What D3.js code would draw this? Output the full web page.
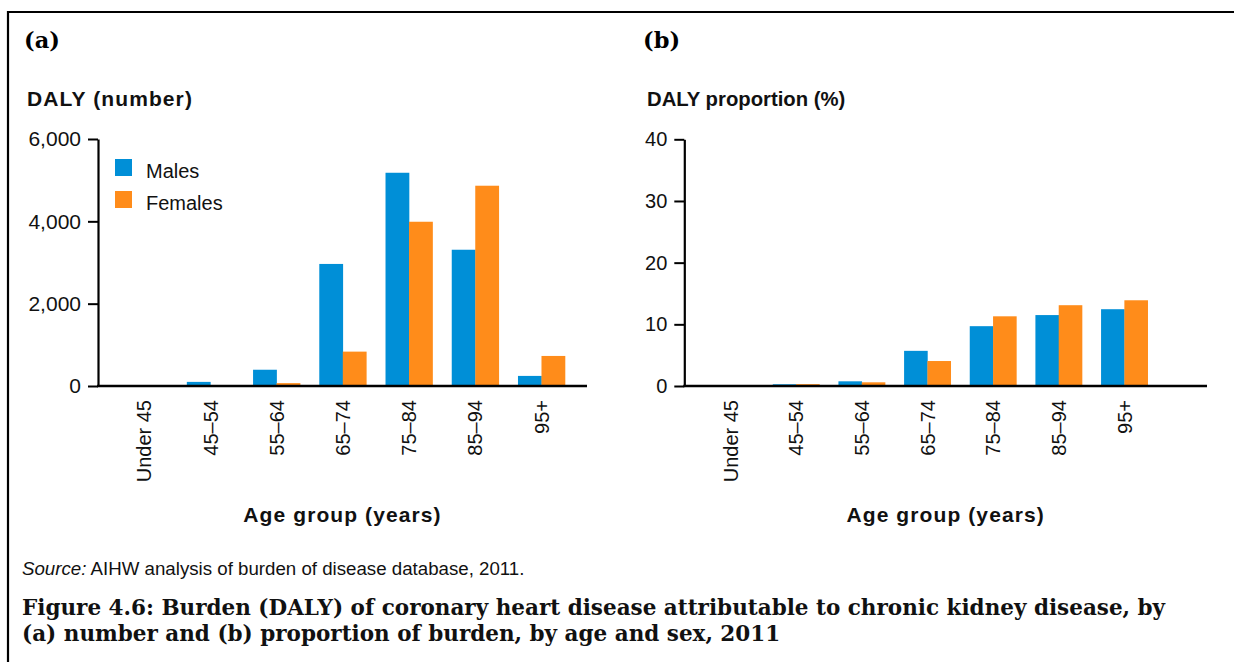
<!DOCTYPE html>
<html><head><meta charset="utf-8">
<script src="https://cdn.jsdelivr.net/npm/d3@7"></script>
<style>
html,body{margin:0;padding:0;background:#fff;}
svg{display:block;}
.sans{font-family:"Liberation Sans",Arial,sans-serif;}
.serif{font-family:"DejaVu Serif",serif;font-weight:bold;}
</style></head>
<body>
<svg id="chart" width="1234" height="662"></svg>
<script>
const categories = ["Under 45","45–54","55–64","65–74","75–84","85–94","95+"];
const series = ["Males","Females"];
const malesNumber   = [0, 100, 395, 2965, 5180, 3310, 245];
const femalesNumber = [0, 5, 70, 835, 3990, 4865, 730];
const malesPct      = [0, 0.28, 0.76, 5.7, 9.7, 11.5, 12.45];
const femalesPct    = [0, 0.3, 0.6, 4.05, 11.3, 13.1, 13.9];
const ticksNumber = [0, 2000, 4000, 6000];
const ticksPct = [0, 10, 20, 30, 40];
const colors = {Males:"#008fd7", Females:"#ff8c1a"};

const svg = d3.select("#chart");

// frame
svg.append("line").attr("x1",8).attr("x2",1234).attr("y1",12).attr("y2",12).attr("stroke","#000").attr("stroke-width",2.2);
svg.append("line").attr("x1",8).attr("x2",8).attr("y1",11).attr("y2",662).attr("stroke","#000").attr("stroke-width",2.2);

function fit(textSel, target, base){
  textSel.attr("font-size", base);
  const w = textSel.node().getComputedTextLength();
  textSel.attr("font-size", base * target / w);
  return base * target / w;
}

function panel(o){
  const g = svg.append("g");
  const y = d3.scaleLinear().domain([0, o.ymax]).range([386, o.ytop]);
  const x = d3.scaleBand().domain(categories).range(o.xr).paddingInner(0.29).paddingOuter(0.145);
  const xs = d3.scaleBand().domain(series).range([0, x.bandwidth()]);

  const data = categories.map((c,i)=>({cat:c, vals:[{s:"Males",v:o.m[i]},{s:"Females",v:o.f[i]}]}));
  const grp = g.selectAll("g.grp").data(data).join("g").attr("transform", d=>`translate(${x(d.cat)},0)`);
  grp.selectAll("rect").data(d=>d.vals).join("rect")
    .attr("x", d=>xs(d.s)).attr("width", xs.bandwidth()+0.3)
    .attr("y", d=>y(d.v)).attr("height", d=>y(0)-y(d.v))
    .attr("fill", d=>colors[d.s]);

  // y axis
  const ya = g.append("g").attr("transform",`translate(${o.ax},0)`)
    .call(d3.axisLeft(y).tickValues(o.ticks).tickFormat(o.fmt).tickSize(10).tickSizeOuter(0).tickPadding(7));
  ya.select(".domain").attr("stroke-width",2.2);
  ya.selectAll(".tick line").attr("stroke-width",2);
  ya.selectAll("text").attr("class","sans").attr("font-size",o.tfs).attr("fill","#111");

  // x axis labels
  const xa = g.append("g").attr("transform",`translate(0,386)`)
    .call(d3.axisBottom(x).tickSize(0).tickPadding(0));
  xa.select(".domain").remove();
  xa.selectAll(".tick text").attr("class","sans").attr("font-size",20).attr("fill","#111")
    .attr("transform","rotate(-90)").attr("text-anchor","end")
    .attr("x",-14).attr("y",0).attr("dy","0.36em");
  g.append("line").attr("x1",o.ax-1).attr("x2",o.xend).attr("y1",386).attr("y2",386)
    .attr("stroke","#000").attr("stroke-width",2.6);

  // titles
  g.append("text").attr("class","serif").attr("x",o.lx).attr("y",48).attr("font-size",22.5).text(o.letter);
  g.append("text").attr("class","sans").attr("x",o.tx).attr("y",106).attr("font-size",o.tsz)
    .attr("font-weight","bold").attr("letter-spacing",o.ls).attr("fill","#111").text(o.title);
  g.append("text").attr("class","sans").attr("x",(o.ax+o.xend)/2).attr("y",522).attr("font-size",21)
    .attr("font-weight","bold").attr("letter-spacing",1.1).attr("text-anchor","middle").attr("fill","#111")
    .text("Age group (years)");
  return {x,y};
}

panel({ymax:6000, ytop:139, xr:[111,574.6], ax:98, xend:587, m:malesNumber, f:femalesNumber,
  ticks:ticksNumber, fmt:d3.format(","), letter:"(a)", lx:24, tx:27, title:"DALY (number)", ls:1.1, tsz:21, tfs:21});
panel({ymax:40, ytop:139.3, xr:[697.6,1157.2], ax:684.3, xend:1207, m:malesPct, f:femalesPct,
  ticks:ticksPct, fmt:d3.format("d"), letter:"(b)", lx:643, tx:647, title:"DALY proportion (%)", ls:0, tsz:20.3, tfs:20});

// legend
const leg = svg.append("g");
series.forEach((s,i)=>{
  leg.append("rect").attr("x",115).attr("y",159+i*32).attr("width",17).attr("height",17).attr("fill",colors[s]);
  leg.append("text").attr("class","sans").attr("x",146).attr("y",177.5+i*32).attr("font-size",20).attr("fill","#111").text(s);
});

// source
const src = svg.append("text").attr("class","sans").attr("x",22).attr("y",575).attr("fill","#111");
src.append("tspan").attr("font-style","italic").text("Source:");
src.append("tspan").text(" AIHW analysis of burden of disease database, 2011.");
fit(src, 503, 15);

// caption
const c1 = svg.append("text").attr("class","serif").attr("x",22).attr("y",615).attr("fill","#111")
  .text("Figure 4.6: Burden (DALY) of coronary heart disease attributable to chronic kidney disease, by");
const fs = fit(c1, 1144, 20);
svg.append("text").attr("class","serif").attr("x",22).attr("y",641).attr("fill","#111").attr("font-size",fs)
  .text("(a) number and (b) proportion of burden, by age and sex, 2011");
</script>
</body></html>
